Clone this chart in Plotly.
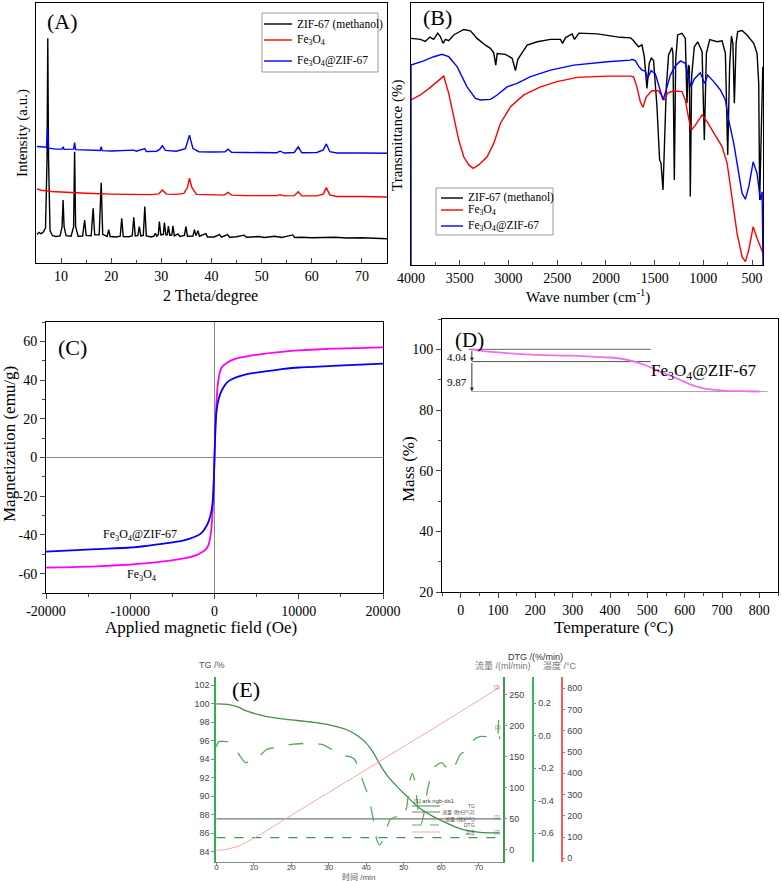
import plotly.graph_objects as go

W, H = 782, 881
SERIF = "Liberation Serif, Times New Roman, serif"
SANS = "Liberation Sans, Arial, Noto Sans CJK SC, sans-serif"


def px(x):
    return x / W


def py(y):
    return 1 - y / H


# ---------------- (A) XRD ----------------
xrd_zif_x = [5.2, 5.6, 6.0, 6.5, 6.9, 7.2, 7.35, 7.5, 7.8, 8.3, 9.0, 9.8, 10.2, 10.4, 10.6, 11.0,
             12.0, 12.5, 12.7, 12.9, 13.4, 14.3, 14.7, 15.0, 16.0, 16.4, 16.7, 17.6, 18.0, 18.3,
             19.2, 19.5, 19.8, 21.0, 21.8, 22.1, 22.4, 23.5, 24.2, 24.5, 24.8, 25.3, 25.6, 25.9,
             26.4, 26.7, 27.0, 28.0, 28.5, 28.8, 29.1, 29.4, 29.6, 29.9, 30.4, 30.6, 30.9, 31.2,
             31.4, 31.7, 32.1, 32.3, 32.6, 33.3, 33.7, 34.6, 34.9, 35.2, 36.3, 36.6, 36.9, 37.3,
             37.6, 38.9, 39.2, 40.5, 41.6, 42.0, 43.2, 43.6, 45.0, 46.5, 47.0, 49.5, 50.5, 52.6,
             54.0, 56.2, 56.6, 58.0, 60.0, 62.0, 64.6, 67.0, 70.0, 75.0]
xrd_zif_y = [11.0, 11.8, 11.2, 12.0, 13.5, 40.0, 86.4, 40.0, 12.5, 10.5, 10.2, 10.4, 14.0, 24.2, 14.0, 10.5,
             10.3, 14.0, 42.8, 14.0, 10.3, 10.4, 16.5, 10.6, 10.5, 21.0, 10.8, 10.8, 30.9, 11.0,
             10.2, 12.8, 10.2, 10.0, 10.3, 17.2, 10.2, 10.1, 10.5, 17.6, 10.4, 10.5, 14.0, 10.4,
             10.6, 21.7, 10.4, 10.0, 10.3, 11.4, 10.3, 11.0, 15.9, 10.8, 11.0, 15.5, 10.8, 10.8,
             14.2, 10.6, 10.8, 14.3, 10.4, 11.2, 10.2, 10.6, 14.0, 10.3, 10.4, 12.8, 10.5, 12.4,
             10.3, 11.3, 10.0, 10.0, 10.9, 9.9, 10.9, 9.9, 10.1, 10.7, 9.9, 10.2, 9.8, 10.3,
             9.8, 10.8, 9.8, 9.9, 9.7, 9.8, 9.9, 9.6, 9.7, 9.3]

xrd_fe_x = [5.2, 6.0, 7.0, 8.0, 10.0, 12.0, 15.0, 20.0, 25.0, 28.0, 29.5, 30.2, 31.0, 33.0, 34.5,
            35.2, 35.6, 36.1, 37.0, 40.0, 42.5, 43.3, 44.0, 47.0, 50.0, 53.0, 53.7, 54.5, 56.5,
            57.3, 58.0, 61.0, 62.3, 62.9, 63.6, 65.0, 70.0, 75.0]
xrd_fe_y = [28.5, 28.0, 27.8, 27.5, 27.3, 27.0, 26.8, 26.5, 26.3, 26.3, 26.6, 28.1, 26.5, 26.4, 26.8,
            29.0, 32.6, 29.0, 26.4, 26.1, 26.1, 27.2, 26.1, 25.9, 25.8, 25.9, 26.3, 25.8, 25.9,
            27.4, 25.8, 25.8, 26.5, 29.0, 26.2, 25.6, 25.6, 25.4]

xrd_comp_x = [5.2, 6.5, 7.1, 7.3, 7.5, 9.0, 10.2, 10.4, 10.6, 12.5, 12.7, 12.9, 15.0, 17.8, 18.0,
              18.2, 20.0, 24.5, 25.0, 26.7, 27.0, 29.0, 29.6, 30.2, 30.8, 33.0, 34.8, 35.6, 36.3,
              37.5, 40.0, 42.7, 43.3, 44.0, 47.0, 50.0, 53.0, 53.7, 54.5, 56.5, 57.3, 58.0, 61.0,
              62.3, 62.9, 63.6, 65.0, 70.0, 75.0]
xrd_comp_y = [44.8, 44.4, 44.5, 51.8, 44.2, 43.8, 43.8, 44.7, 43.7, 43.8, 46.3, 43.6, 43.4, 43.3, 44.7,
              43.2, 43.1, 43.4, 43.0, 44.0, 42.9, 43.0, 43.6, 45.1, 43.3, 43.0, 44.0, 49.2, 44.0,
              42.8, 42.7, 42.8, 43.8, 42.6, 42.5, 42.4, 42.4, 43.0, 42.3, 42.5, 44.7, 42.4, 42.5,
              43.5, 45.8, 42.8, 42.3, 42.3, 42.2]

# ---------------- (B) FTIR ----------------
ir_zif_x = [4000, 3904, 3853, 3808, 3767, 3726, 3699, 3671, 3647, 3613, 3562, 3459, 3390, 3322, 3236,
            3185, 3151, 3130, 3116, 3031, 2962, 2928, 2904, 2808, 2705, 2568, 2466, 2445, 2414, 2346,
            2322, 2277, 2089, 1853, 1746, 1716, 1665, 1630, 1606, 1579, 1555, 1534, 1511, 1476, 1449,
            1435, 1414, 1398, 1380, 1357, 1322, 1312, 1298, 1284, 1264, 1219, 1185, 1168, 1154, 1144,
            1134, 1120, 1093, 1058, 1013, 990, 969, 935, 859, 808, 774, 750, 730, 712, 697, 682, 664,
            648, 603, 552, 483, 449, 432, 422, 407, 390]
ir_zif_y = [86.5, 86.1, 85.3, 87.0, 86.1, 88.5, 87.2, 84.6, 86.1, 85.6, 87.8, 89.9, 89.4, 86.5, 83.9,
            82.7, 81.0, 76.3, 80.7, 80.4, 78.9, 74.2, 78.5, 83.9, 85.2, 86.1, 86.1, 84.6, 86.8, 88.2,
            86.1, 88.5, 88.2, 86.9, 86.7, 85.6, 83.3, 84.0, 79.5, 67.4, 77.0, 79.0, 78.0, 60.4, 40.1,
            39.0, 28.6, 47.7, 68.0, 80.2, 83.0, 80.8, 32.4, 78.0, 87.8, 88.4, 86.5, 61.7, 76.3, 75.7,
            26.1, 72.0, 83.3, 85.2, 81.4, 47.7, 80.8, 86.0, 85.2, 85.6, 80.8, 42.0, 76.3, 87.4, 84.6,
            61.7, 84.6, 89.1, 89.5, 87.8, 84.6, 80.8, 69.3, 24.8, 50.0, 75.7]

ir_fe_x = [4000, 3904, 3801, 3664, 3613, 3562, 3510, 3459, 3407, 3363, 3305, 3219, 3151, 3082, 2979,
           2842, 2671, 2500, 2294, 1986, 1746, 1716, 1682, 1647, 1620, 1586, 1527, 1460, 1425, 1401,
           1367, 1305, 1219, 1185, 1151, 1123, 1082, 1013, 962, 877, 808, 756, 705, 654, 603, 569,
           534, 489, 449, 388]
ir_fe_y = [63.0, 64.9, 67.8, 72.1, 65.5, 56.6, 47.7, 41.3, 38.2, 36.9, 38.2, 41.3, 46.4, 54.1, 60.4,
           64.9, 68.0, 70.0, 71.6, 72.1, 72.1, 71.8, 68.0, 62.3, 60.2, 64.2, 66.5, 66.5, 64.2, 63.0,
           65.6, 66.5, 66.2, 63.0, 56.0, 51.5, 53.4, 57.3, 54.7, 49.6, 45.2, 38.8, 24.8, 12.1, 3.2, 1.3,
           5.7, 14.6, 10.2, 4.5]

ir_comp_x = [4000, 4000, 3870, 3767, 3681, 3613, 3527, 3425, 3339, 3288, 3185, 3116, 3014, 2911, 2774,
             2568, 2329, 1986, 1746, 1733, 1699, 1665, 1630, 1596, 1572, 1537, 1493, 1449, 1414, 1380,
             1339, 1288, 1236, 1185, 1151, 1127, 1093, 1031, 987, 956, 894, 825, 774, 740, 688, 637,
             603, 569, 534, 489, 449, 415, 397, 388]
ir_comp_y = [0.0, 76.3, 77.9, 79.5, 80.4, 79.5, 75.7, 68.0, 63.6, 63.0, 63.2, 64.9, 68.0, 69.3, 71.9,
             74.4, 76.3, 77.6, 78.2, 78.5, 78.0, 75.9, 74.4, 74.0, 71.3, 74.2, 73.0, 67.4, 63.0, 67.0,
             72.5, 76.0, 77.9, 77.0, 71.3, 68.0, 71.0, 73.4, 69.3, 72.5, 70.0, 66.8, 63.0, 55.3, 46.4,
             35.0, 27.4, 25.1, 29.9, 39.4, 35.0, 24.8, 28.0, 0.0]

series_names = ["ZIF-67 (methanol)", "Fe<sub>3</sub>O<sub>4</sub>", "Fe<sub>3</sub>O<sub>4</sub>@ZIF-67"]
series_colors = ["black", "#ff0000", "#0000ff"]

# ---------------- (C) VSM ----------------
field = [-20000, -14000, -10000, -8000, -6000, -4000, -3000, -2000, -1500, -1000, -700, -400, -200,
         -100, 0, 100, 200, 400, 700, 1000, 1500, 2000, 3000, 4000, 6000, 8000, 10000, 14000, 20000]
mag_fe = [-56.9, -56.2, -55.3, -54.6, -53.7, -52.4, -51.6, -50.2, -49.0, -47.3, -45.0, -38.0, -26.0,
          -15.0, 0.0, 15.0, 26.0, 38.0, 45.0, 47.3, 49.0, 50.2, 51.6, 52.4, 53.7, 54.6, 55.3, 56.2, 56.9]
mag_comp = [-48.6, -47.3, -46.5, -45.6, -44.5, -43.2, -42.0, -40.3, -38.8, -35.8, -33.0, -28.5, -22.0,
            -14.0, 0.0, 14.0, 22.0, 28.5, 33.0, 35.8, 38.8, 40.3, 42.0, 43.2, 44.5, 45.6, 46.5, 47.3, 48.5]

# ---------------- (D) TGA ----------------
tga_temp = [30, 50, 100, 150, 200, 250, 300, 350, 400, 430, 450, 470, 490, 510, 530, 550, 570, 590,
            610, 630, 650, 680, 710, 750, 800]
tga_mass = [100.0, 99.6, 99.0, 98.5, 98.2, 98.0, 97.9, 97.6, 97.3, 96.9, 96.4, 95.8, 95.0, 94.0, 92.9,
            91.9, 90.9, 89.8, 88.7, 87.8, 87.1, 86.6, 86.3, 86.2, 86.1]
step_levels = [100.0, 95.96, 86.09]
step_starts = [21, 31, 30]
step_ends = [509, 509, 822]
step_labels = ["4.04", "9.87"]

# ---------------- (E) instrument TG / DTG ----------------
tg_time = [0, 3, 5.5, 8.2, 12.6, 17, 21.5, 25.9, 30.4, 34.8, 37.5, 40.1, 41.9, 43.7, 45.5, 48.1,
           50.8, 54.3, 57.9, 61.5, 65.9, 70.3, 75.6]
tg_val = [100.0, 99.95, 99.7, 99.2, 98.7, 98.4, 98.2, 98.0, 97.7, 97.2, 96.6, 95.7, 94.7, 93.4, 92.3,
          91.1, 90.0, 88.7, 87.8, 87.1, 86.4, 86.1, 86.05]
dtg_time = [0.0, 0.6, 2.8, 4.6, 7.7, 10.8, 13.5, 17.0, 20.6, 25.9, 28.6, 31.3, 33.9, 35.7, 37.0,
            38.8, 40.6, 41.9, 42.8, 43.5, 44.2, 45.3, 46.3, 48.1, 49.9, 50.8, 51.7, 52.3, 53.0, 53.7,
            54.5, 55.4, 56.5, 58.3, 60.1, 61.5, 62.3, 63.7, 65.0, 66.8, 68.6, 70.3, 72.1, 74.3, 75.0,
            75.3, 75.6]
dtg_val = [-0.067, -0.036, -0.036, -0.067, -0.165, -0.139, -0.083, -0.067, -0.051, -0.046, -0.056,
           -0.092, -0.124, -0.128, -0.149, -0.262, -0.375, -0.518, -0.641, -0.672, -0.652, -0.580,
           -0.518, -0.498, -0.508, -0.436, -0.272, -0.231, -0.282, -0.436, -0.549, -0.477, -0.313,
           -0.190, -0.165, -0.200, -0.221, -0.180, -0.118, -0.087, -0.026, -0.005, -0.005, -0.015,
           -0.010, 0.097, -0.02]
temp_time = [0, 2, 4, 6, 8, 10, 20, 30, 40, 50, 60, 70, 75.5]
temp_val = [38, 40, 48, 58, 76, 94, 202, 310, 418, 526, 634, 743, 803]
flow_time = [0, 76]
flow_purge = [50, 50]
flow_protect = [20, 20]

fig = go.Figure()

# A and B
for xs, ys, nm, col in zip([xrd_zif_x, xrd_fe_x, xrd_comp_x], [xrd_zif_y, xrd_fe_y, xrd_comp_y],
                           series_names, series_colors):
    fig.add_trace(go.Scatter(x=xs, y=ys, mode="lines", name=nm, showlegend=False,
                             line=dict(color=col, width=1.4), xaxis="x", yaxis="y"))
for xs, ys, nm, col in zip([ir_zif_x, ir_fe_x, ir_comp_x], [ir_zif_y, ir_fe_y, ir_comp_y],
                           series_names, series_colors):
    fig.add_trace(go.Scatter(x=xs, y=ys, mode="lines", name=nm, showlegend=False,
                             line=dict(color=col, width=1.4), xaxis="x2", yaxis="y2"))
# C
fig.add_trace(go.Scatter(x=field, y=mag_fe, mode="lines", showlegend=False,
                         line=dict(color="#ff00ff", width=1.8, shape="spline", smoothing=0.6),
                         xaxis="x3", yaxis="y3"))
fig.add_trace(go.Scatter(x=field, y=mag_comp, mode="lines", showlegend=False,
                         line=dict(color="#0000ff", width=1.8, shape="spline", smoothing=0.6),
                         xaxis="x3", yaxis="y3"))
# D
for lvl, x0, x1, col in zip(step_levels, step_starts, step_ends, ["#666666", "#555555", "#aaaaaa"]):
    fig.add_trace(go.Scatter(x=[x0, x1], y=[lvl, lvl], mode="lines", showlegend=False,
                             line=dict(color=col, width=1), xaxis="x4", yaxis="y4"))
fig.add_trace(go.Scatter(x=tga_temp, y=tga_mass, mode="lines", showlegend=False,
                         line=dict(color="#f46cf4", width=1.8, shape="spline", smoothing=0.5),
                         xaxis="x4", yaxis="y4"))
# E
fig.add_trace(go.Scatter(x=temp_time, y=temp_val, mode="lines", showlegend=False,
                         line=dict(color="#f4a8a8", width=1, shape="spline"), xaxis="x5", yaxis="y8"))
fig.add_trace(go.Scatter(x=flow_time, y=flow_purge, mode="lines", showlegend=False,
                         line=dict(color="#707a70", width=1.2), xaxis="x5", yaxis="y6"))
fig.add_trace(go.Scatter(x=flow_time, y=flow_protect, mode="lines", showlegend=False,
                         line=dict(color="#3f9a4f", width=1.3, dash="dash"), xaxis="x5", yaxis="y6"))
fig.add_trace(go.Scatter(x=dtg_time, y=dtg_val, mode="lines", showlegend=False,
                         line=dict(color="#5aa860", width=1.3, dash="longdash", shape="spline",
                                   smoothing=0.5), xaxis="x5", yaxis="y7"))
fig.add_trace(go.Scatter(x=tg_time, y=tg_val, mode="lines", showlegend=False,
                         line=dict(color="#3f9148", width=1.3, shape="spline"), xaxis="x5", yaxis="y5"))

tf = dict(family=SERIF, size=14, color="black")
base = dict(showgrid=False, zeroline=False, showline=True, linecolor="black", linewidth=1,
            mirror=True, tickfont=tf, automargin=False)
small = dict(family=SANS, size=9, color="#444444")

layout = dict(
    width=W, height=H, margin=dict(l=0, r=0, t=0, b=0), template="none",
    paper_bgcolor="white", plot_bgcolor="white", showlegend=False,
    xaxis=dict(base, domain=[px(36), px(387)], anchor="y", range=[5, 75], tickvals=list(range(10, 80, 10)),
               ticks="inside", ticklen=5, minor=dict(dtick=5, ticks="inside", ticklen=3)),
    yaxis=dict(base, domain=[py(263), py(3)], anchor="x", range=[0, 100], showticklabels=False, ticks=""),
    xaxis2=dict(base, domain=[px(411), px(763)], anchor="y2", range=[4000, 388],
                tickvals=[4000, 3500, 3000, 2500, 2000, 1500, 1000, 500],
                ticks="inside", ticklen=5, minor=dict(dtick=250, ticks="inside", ticklen=3)),
    yaxis2=dict(base, domain=[py(265), py(3)], anchor="x2", range=[0, 100], showticklabels=False, ticks=""),
    xaxis3=dict(base, domain=[px(46), px(383)], anchor="y3", range=[-20000, 20000],
                tickvals=[-20000, -10000, 0, 10000, 20000],
                ticktext=["-20000", "-10000", "0", "10000", "20000"],
                ticks="outside", ticklen=5, minor=dict(dtick=5000, ticks="outside", ticklen=3),
                zeroline=True, zerolinecolor="#888888", zerolinewidth=1),
    yaxis3=dict(base, domain=[py(593), py(322)], anchor="x3", range=[-70, 70],
                tickvals=[-60, -40, -20, 0, 20, 40, 60],
                ticktext=["-60", "-40", "-20", "0", "20", "40", "60"],
                ticks="outside", ticklen=5, minor=dict(dtick=10, ticks="outside", ticklen=3),
                zeroline=True, zerolinecolor="#888888", zerolinewidth=1),
    xaxis4=dict(base, domain=[px(442), px(778)], anchor="y4", range=[-50, 850], tick0=0, dtick=100,
                ticks="outside", ticklen=5, minor=dict(dtick=50, ticks="outside", ticklen=3)),
    yaxis4=dict(base, domain=[py(592), py(319)], anchor="x4", range=[20, 110],
                tickvals=[20, 40, 60, 80, 100],
                ticks="outside", ticklen=5, minor=dict(dtick=10, ticks="outside", ticklen=3)),
    xaxis5=dict(showgrid=False, zeroline=False, showline=True, linecolor="#8a8a8a", mirror=False,
                domain=[px(216), px(502.7)], anchor="y5", range=[-0.1, 76.4], tick0=0, dtick=10,
                ticks="outside", ticklen=3, tickcolor="#8a8a8a", tickfont=dict(small, size=8),
                automargin=False, ticklabelstandoff=-6),
    yaxis5=dict(showgrid=False, zeroline=False, showline=True, linecolor="#2db34a", linewidth=1.5,
                domain=[py(862), py(677)], anchor="x5", range=[82.9, 102.9], tick0=84, dtick=2,
                ticks="outside", ticklen=3, tickcolor="#8a8a8a", tickfont=small, automargin=False),
    yaxis6=dict(showgrid=False, zeroline=False, showline=True, linecolor="#3a9a50", linewidth=1.5,
                overlaying="y5", side="right", anchor="x5", range=[-19.4, 279], tick0=0, dtick=50,
                ticks="outside", ticklen=3, tickcolor="#8a8a8a", tickfont=small, automargin=False),
    yaxis7=dict(showgrid=False, zeroline=False, showline=True, linecolor="#2dbb55", linewidth=1.5,
                overlaying="y5", side="right", anchor="free", position=px(532.7), range=[-0.777, 0.362],
                tickvals=[-0.6, -0.4, -0.2, 0.0, 0.2], ticktext=["-0.6", "-0.4", "-0.2", "0.0", "0.2"],
                ticks="outside", ticklen=3, tickcolor="#8a8a8a", tickfont=small, automargin=False),
    yaxis8=dict(showgrid=False, zeroline=False, showline=True, linecolor="#ff5a5a", linewidth=1.5,
                overlaying="y5", side="right", anchor="free", position=px(561.7), range=[-17.4, 853],
                tick0=0, dtick=100, ticks="outside", ticklen=3, tickcolor="#ff5a5a", tickfont=small,
                automargin=False),
)
fig.update_layout(layout)

ann = []
shapes = []


def label(text, x, y, size, angle=0, font=SERIF, color="black", xanchor="center"):
    ann.append(dict(text=text, x=px(x), y=py(y), xref="paper", yref="paper", showarrow=False,
                    xanchor=xanchor, yanchor="middle", textangle=angle,
                    font=dict(family=font, size=size, color=color)))


def seg(x0, x1, y, color, width=1.4, dash="solid"):
    shapes.append(dict(type="line", xref="paper", yref="paper", x0=px(x0), x1=px(x1), y0=py(y), y1=py(y),
                       line=dict(color=color, width=width, dash=dash)))


# legend boxes for (A) and (B)
for box, sx0, sx1, tx, rows in [((262, 13, 378, 72), 264, 292, 295, [24, 40, 61]),
                                ((436, 188, 553, 235), 441, 463, 466, [198, 210, 226])]:
    shapes.append(dict(type="rect", xref="paper", yref="paper", x0=px(box[0]), x1=px(box[2]),
                       y0=py(box[3]), y1=py(box[1]), line=dict(color="#999999", width=1),
                       fillcolor="white", layer="above"))
    for nm, col, yy in zip(series_names, series_colors, rows):
        seg(sx0, sx1, yy, col)
        label(nm, tx, yy, 11.5, xanchor="left")

label("(A)", 62, 21, 22)
label("(B)", 437, 17, 22)
label("(C)", 72, 347, 22)
label("(D)", 469, 340, 21)
label("(E)", 246, 689, 22)
label("Intensity (a.u.)", 22, 133, 15, angle=-90)
label("2 Theta/degree", 211, 296, 16)
label("Transmittance (%)", 398, 135, 15, angle=-90)
label("Wave number (cm<sup>-1</sup>)", 588, 296, 15)
label("Magnetization (emu/g)", 9, 444, 17, angle=-90)
label("Applied magnetic field (Oe)", 201, 627, 17)
label("Mass (%)", 408, 469, 17, angle=-90)
label("Temperature (°C)", 613, 627, 17)
label("Fe<sub>3</sub>O<sub>4</sub>@ZIF-67", 140, 535, 12)
label("Fe<sub>3</sub>O<sub>4</sub>", 142, 575, 12)
label("Fe<sub>3</sub>O<sub>4</sub>@ZIF-67", 704, 372, 17)
label(step_labels[0], 457, 357, 11)
label(step_labels[1], 457, 382, 11)
# E texts
label("TG /%", 212, 665, 9, font=SANS, color="#555555")
label("DTG /(%/min)", 535, 657, 9, font=SANS, color="#333333")
label("流量 /(ml/min)", 503, 665, 9, font=SANS, color="#777777")
label("温度 /°C", 560, 665, 9, font=SANS, color="#777777")
label("时间 /min", 358, 877, 8, font=SANS, color="#555555")
label("[1] ark ngb-ds1", 412, 801, 6, font=SANS, color="#444444", xanchor="left")
for txt, yy in [("TG", 806), ("流量 (吹扫气2)", 812), ("流量 (保护气)", 819), ("DTG", 825), ("温度", 832)]:
    label(txt, 477, yy, 5, font=SANS, color="#555555", xanchor="right")
label("[3]", 497, 687, 5, font=SANS, color="#e06060")
label("[2]", 498, 727, 5, font=SANS, color="#3f9148")
label("[1]", 497, 817, 5, font=SANS, color="#3f9148")
label("[2]", 497, 832, 5, font=SANS, color="#3f9148")
for yy, col, dash in [(806, "#3f9148", "solid"), (812, "#707a70", "solid"), (825, "#5aa860", "dash"),
                      (832, "#f4a8a8", "solid")]:
    seg(412, 440, yy, col, width=1, dash=dash)

# step arrows in (D)
for top, bot in [(step_levels[0], step_levels[1]), (step_levels[1], step_levels[2])]:
    ann.append(dict(x=30, y=bot, ax=30, ay=top, xref="x4", yref="y4", axref="x4", ayref="y4",
                    text="", showarrow=True, arrowhead=2, arrowsize=0.8, arrowwidth=1,
                    arrowcolor="#333333"))

fig.update_layout(annotations=ann, shapes=shapes)

fig.write_html("out.html", config={"displayModeBar": False},
               post_script="document.body.style.margin='0';document.body.style.overflow='hidden';")
